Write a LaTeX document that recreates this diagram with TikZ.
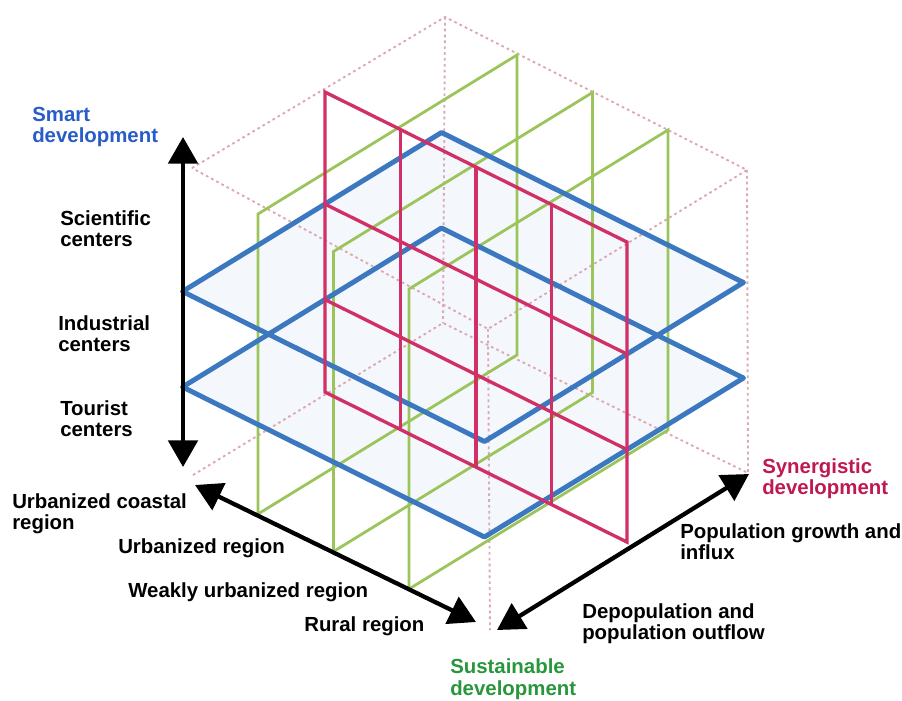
\documentclass[tikz,border=0pt]{standalone}
\usepackage{fontspec}
\setmainfont{Liberation Sans}
\usetikzlibrary{arrows.meta}
\definecolor{cblue}{RGB}{60,120,192}
\definecolor{cgreen}{RGB}{155,197,90}
\definecolor{cred}{RGB}{208,48,102}
\definecolor{cdash}{RGB}{220,168,178}
\definecolor{tblue}{RGB}{40,92,200}
\definecolor{tred}{RGB}{192,24,80}
\definecolor{tgreen}{RGB}{40,150,60}
\definecolor{tint}{RGB}{244,247,252}
\begin{document}
\begin{tikzpicture}[x=0.75pt,y=-0.75pt,
  lab/.style={anchor=base west, inner sep=0pt, align=left, font=\fontsize{15.3}{16.1}\selectfont\bfseries},
  cubeedge/.style={draw=cdash, line width=1.4pt, dash pattern=on 2pt off 2.4pt},
  bluefill/.style={fill=tint},
  bluep/.style={draw=cblue, line width=3.7pt, line join=round},
  greenp/.style={draw=cgreen, line width=2.1pt},
  redp/.style={draw=cred, line width=2.5pt},
  axis/.style={line width=3.2pt, {Triangle[length=20pt,width=22pt]}-{Triangle[length=20pt,width=22pt]}},
]
\useasboundingbox (0,0) rectangle (902,700);
% dashed cube
\coordinate (T) at (445,17);
\coordinate (L) at (192,168);
\coordinate (R) at (747,170);
\coordinate (F) at (488,329);
\coordinate (Bb) at (443,323);
\coordinate (Rb) at (748,473);
\coordinate (Lb) at (193,475);
\coordinate (Fb) at (490,630);
\begin{scope}[shift={(331.125pt,-13.125pt)}, x={(-194.25pt,-119.25pt)}, y={(226.5pt,-112.5pt)}, z={(0pt,0.75pt)}]
  \fill[bluefill] (0,0,-115) -- (1,0,-115) -- (1,1,-115) -- (0,1,-115) -- cycle;
  \fill[bluefill] (0,0,-210.5) -- (1,0,-210.5) -- (1,1,-210.5) -- (0,1,-210.5) -- cycle;
\end{scope}
\draw[cubeedge] (L) -- (T) -- (R) -- (F) -- cycle;
\draw[cubeedge] (T) -- (Bb);
\draw[cubeedge] (R) -- (Rb);
\draw[cubeedge] (F) -- (Fb);
\draw[cubeedge] (Lb) -- (Bb) -- (Rb);
\begin{scope}[shift={(331.125pt,-13.125pt)}, x={(-194.25pt,-119.25pt)}, y={(226.5pt,-112.5pt)}, z={(0pt,0.75pt)}]
  % green planes
  \foreach \k in {0.25,0.5,0.75}{
    \draw[greenp] (0,\k,0) -- (1,\k,0) -- (1,\k,-300) -- (0,\k,-300) -- cycle;
  }
  % blue planes
  \draw[bluep] (0,0,-115) -- (1,0,-115) -- (1,1,-115) -- (0,1,-115) -- cycle;
  \draw[bluep] (0,0,-210.5) -- (1,0,-210.5) -- (1,1,-210.5) -- (0,1,-210.5) -- cycle;
  % red plane
  \draw[redp] (0.45,0,-3) -- (0.45,1,-3) -- (0.45,1,-303) -- (0.45,0,-303) -- cycle;
  \foreach \k in {0.25,0.5,0.75}{
    \draw[redp] (0.45,\k,-3) -- (0.45,\k,-303);
  }
  \draw[redp] (0.45,0,-115) -- (0.45,1,-115);
  \draw[redp] (0.45,0,-210.5) -- (0.45,1,-210.5);
\end{scope}
% axes
\coordinate (vt) at (183,137);
\coordinate (vb) at (183,467);
\coordinate (rl) at (195,485);
\coordinate (rr) at (476,622);
\coordinate (pl) at (497,630);
\coordinate (pr) at (749,474);
\draw[axis] (vt) -- (vb);
\draw[axis] (rl) -- (rr);
\draw[axis] (pl) -- (pr);
% labels (base = baseline of last line)
\node[lab, text=tblue] (smart) at (32,142.5) {Smart\\development};
\node[lab] (sci) at (60,246.5) {Scientific\\centers};
\node[lab] (ind) at (58,351.5) {Industrial\\centers};
\node[lab] (tour) at (60,436.5) {Tourist\\centers};
\node[lab] (coast) at (12,529.5) {Urbanized coastal\\region};
\node[lab] (urb) at (118,553) {Urbanized region};
\node[lab] (weak) at (128,597) {Weakly urbanized region};
\node[lab] (rural) at (304,631) {Rural region};
\node[lab, text=tgreen] (sust) at (450,695) {Sustainable\\development};
\node[lab, text=tred] (syn) at (762,494.5) {Synergistic\\development};
\node[lab] (popg) at (680,559.5) {Population growth and\\influx};
\node[lab] (depop) at (582,639.5) {Depopulation and\\population outflow};
\end{tikzpicture}
\end{document}
